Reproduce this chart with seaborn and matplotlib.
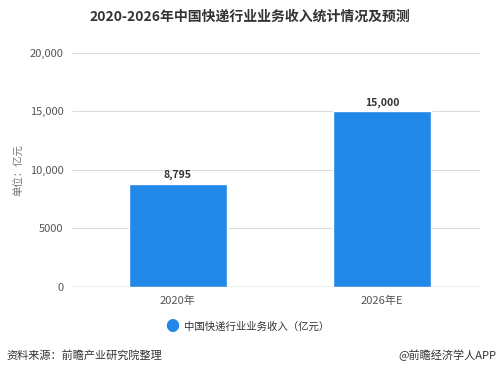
import matplotlib
matplotlib.use("Agg")
import matplotlib.pyplot as plt
import seaborn as sns
import pandas as pd

# data
years = ["2020年", "2026年E"]
revenue = [8795, 15000]
yticks = [0, 5000, 10000, 15000, 20000]
ytick_labels = ["0", "5000", "10,000", "15,000", "20,000"]

sns.set_style("white")
plt.rcParams['font.family'] = ['Noto Sans CJK SC', 'DejaVu Sans']

df = pd.DataFrame({"year": years, "revenue": revenue})

fig = plt.figure(figsize=(4.99, 3.73), dpi=100)
ax = fig.add_axes([0.144, 0.231, 0.818, 0.627])

sns.barplot(data=df, x="year", y="revenue", color="#2188E8", width=0.48,
            saturation=1, ax=ax, zorder=3)

for i, v in enumerate(revenue):
    ax.text(i, v + 300, f"{v:,}", ha="center", va="bottom", fontsize=7.5,
            fontweight="bold", color="#333333")

ax.set_ylim(0, 20000)
ax.set_xlim(-0.52, 1.48)
ax.set_yticks(yticks)
ax.set_yticklabels(ytick_labels)
ax.yaxis.grid(True, color="#dddddd", linewidth=0.8, zorder=0)
ax.axhline(0, color="#999999", linewidth=0.9, zorder=4)
for s in ax.spines.values():
    s.set_visible(False)
ax.tick_params(axis="both", labelsize=8, colors="#555555", length=0, pad=6)
ax.set_xlabel("")
ax.set_ylabel("单位：亿元", fontsize=7.5, color="#777777", labelpad=4)

fig.text(0.5, 0.955, "2020-2026年中国快递行业业务收入统计情况及预测", ha="center",
         va="center", fontsize=10, fontweight="bold", color="#333333")

# legend
fig.text(0.345, 0.123, "●", ha="center", va="center", fontsize=10, color="#2188E8")
fig.text(0.368, 0.123, "中国快递行业业务收入（亿元）", ha="left", va="center",
         fontsize=7.5, color="#333333")

fig.text(0.012, 0.048, "资料来源：前瞻产业研究院整理", ha="left", va="center",
         fontsize=8, color="#333333")
fig.text(0.995, 0.048, "@前瞻经济学人APP", ha="right", va="center",
         fontsize=8, color="#333333")

fig.savefig("out.png", dpi=100)
